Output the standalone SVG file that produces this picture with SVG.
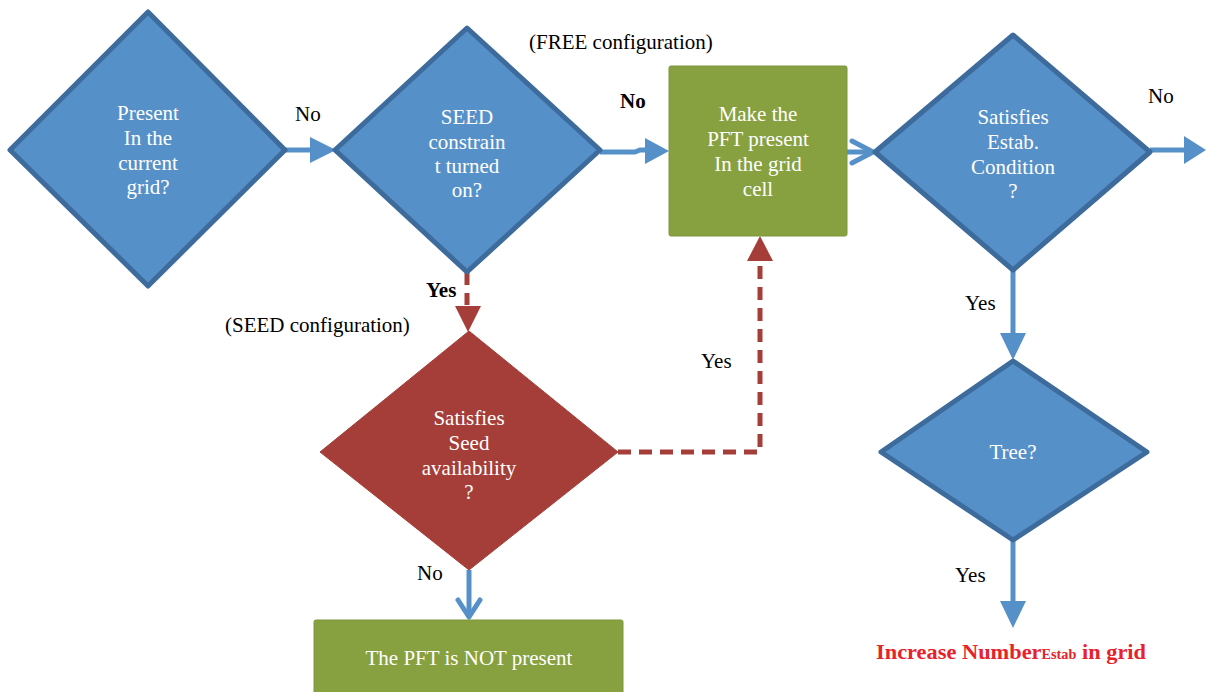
<svg xmlns="http://www.w3.org/2000/svg" width="1206" height="692" viewBox="0 0 1206 692">
<style>
.dia{fill:#5690c8;stroke:#3d6b9c;stroke-width:5;stroke-linejoin:round}
.red{fill:#a53e38;stroke:#a53e38;stroke-width:1}
.box{fill:#88a140;stroke:#7d953a;stroke-width:1}
.in{font-family:"Liberation Serif",serif;font-size:21px;fill:#ffffff;text-anchor:middle}
.lbl{font-family:"Liberation Serif",serif;font-size:21px;fill:#000000}
.b{font-weight:bold}
.bl{fill:none;stroke:#5690c8;stroke-width:5}
.rd{fill:none;stroke:#a53e38;stroke-width:5;stroke-dasharray:13 8}
.ah{fill:#5690c8}
.rh{fill:#a53e38}
</style>
<rect width="1206" height="692" fill="#ffffff"/>
<g id="connectors">
  <path class="bl" d="M285,150 L312,150"/>
  <polygon class="ah" points="310,137 336,150 310,163"/>
  <path class="bl" d="M600,152 L635,152 L640,150 L648,150"/>
  <polygon class="ah" points="645,138 669,151 645,164"/>
  <path class="bl" d="M847,152 L872,152"/>
  <path class="bl" d="M852,141 L873,152 L852,163" stroke-linecap="round" stroke-linejoin="round"/>
  <path class="bl" d="M1150,150 L1188,150"/>
  <polygon class="ah" points="1184,136 1206,150 1184,164"/>
  <path class="bl" d="M1013,270 L1013,336"/>
  <polygon class="ah" points="1000,333 1026,333 1013,360"/>
  <path class="bl" d="M1013,540 L1013,604"/>
  <polygon class="ah" points="1000,601 1026,601 1013,628"/>
  <path class="rd" d="M467,272 L467,305"/>
  <polygon class="rh" points="455,306 481,306 468,332"/>
  <path class="rd" d="M618,452 L760,452 L760,262"/>
  <polygon class="rh" points="747,261 773,261 760,236"/>
  <path class="bl" d="M469,570 L469,616" stroke-width="3"/>
  <path class="bl" d="M458,600 L469,617 L480,600" stroke-width="4" stroke-linecap="round" stroke-linejoin="round"/>
</g>
<g id="labels">
  <text class="lbl" x="295" y="121">No</text>
  <text class="lbl" x="529" y="49">(FREE configuration)</text>
  <text class="lbl b" x="620" y="108">No</text>
  <text class="lbl" x="1148" y="103">No</text>
  <text class="lbl" x="965" y="310">Yes</text>
  <text class="lbl" x="955" y="582">Yes</text>
  <text class="lbl b" x="426" y="297">Yes</text>
  <text class="lbl" x="225" y="332">(SEED configuration)</text>
  <text class="lbl" x="701" y="368">Yes</text>
  <text class="lbl" x="417" y="580">No</text>
  <text font-family="'Liberation Serif',serif" font-size="22px" font-weight="bold" fill="#e8212b" x="876" y="659" textLength="270" lengthAdjust="spacingAndGlyphs">Increase Number<tspan font-size="14px">Estab</tspan> in grid</text>
</g>
<g id="present">
  <polygon class="dia" points="148,12 285,150 148,286 10,150"/>
  <text class="in" x="148" y="120">Present</text>
  <text class="in" x="148" y="145">In the</text>
  <text class="in" x="148" y="170">current</text>
  <text class="in" x="148" y="194">grid?</text>
</g>
<g id="seed">
  <polygon class="dia" points="467,28 600,150 467,272 335,150"/>
  <text class="in" x="467" y="124">SEED</text>
  <text class="in" x="467" y="149">constrain</text>
  <text class="in" x="467" y="173">t turned</text>
  <text class="in" x="467" y="197">on?</text>
</g>
<g id="make">
  <rect class="box" x="669" y="66" width="178" height="170" rx="2"/>
  <text class="in" x="758" y="121">Make the</text>
  <text class="in" x="758" y="146">PFT present</text>
  <text class="in" x="758" y="171">In the grid</text>
  <text class="in" x="758" y="196">cell</text>
</g>
<g id="estab">
  <polygon class="dia" points="1013,35 1150,152 1013,270 875,152"/>
  <text class="in" x="1013" y="124">Satisfies</text>
  <text class="in" x="1013" y="149">Estab.</text>
  <text class="in" x="1013" y="174">Condition</text>
  <text class="in" x="1013" y="198">?</text>
</g>
<g id="tree">
  <polygon class="dia" points="1013,361 1147,452 1013,540 881,452"/>
  <text class="in" x="1013" y="459">Tree?</text>
</g>
<g id="seedavail">
  <polygon class="red" points="469,331 618,452 469,570 320,452"/>
  <text class="in" x="469" y="425">Satisfies</text>
  <text class="in" x="469" y="450">Seed</text>
  <text class="in" x="469" y="475">availability</text>
  <text class="in" x="469" y="499">?</text>
</g>
<g id="notpresent">
  <rect class="box" x="314" y="620" width="309" height="80" rx="2"/>
  <text class="in" x="469" y="665">The PFT is NOT present</text>
</g>
</svg>
